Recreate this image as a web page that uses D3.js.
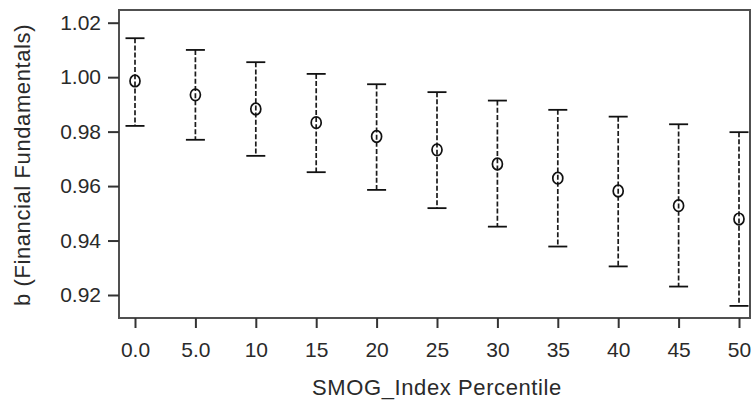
<!DOCTYPE html>
<html>
<head>
<meta charset="utf-8">
<script src="https://cdn.jsdelivr.net/npm/d3@7"></script>
<style>
  html, body { margin: 0; padding: 0; background: #fff; }
  svg { display: block; }
  text { font-family: "Liberation Sans", Arial, Helvetica, sans-serif; fill: #2a2a2a; }
</style>
</head>
<body>
<svg id="chart" width="753" height="402"></svg>
<script>
// ---- data ----
const categories = ["0.0", "5.0", "10", "15", "20", "25", "30", "35", "40", "45", "50"];
const estimates  = [0.9986, 0.9935, 0.9883, 0.9833, 0.9782, 0.9733, 0.9681, 0.9629, 0.9582, 0.9528, 0.9479];
const upper      = [1.0143, 1.0100, 1.0055, 1.0012, 0.9974, 0.9945, 0.9914, 0.9880, 0.9855, 0.9827, 0.9798];
const lower      = [0.9821, 0.9770, 0.9711, 0.9651, 0.9586, 0.9519, 0.9451, 0.9378, 0.9305, 0.9231, 0.9160];
const yTicks     = [0.92, 0.94, 0.96, 0.98, 1.00, 1.02];
const xTitle = "SMOG_Index Percentile";
const yTitle = "b (Financial Fundamentals)";

// ---- layout ----
const svg = d3.select("#chart");
const frame = { left: 119, top: 10, right: 750, bottom: 318 };

const x = d3.scalePoint().domain(categories).range([135, 739]);
const y = d3.scaleLinear().domain([0.92, 1.02]).range([295, 22.7]);

const rows = categories.map((c, i) => ({ c, est: estimates[i], hi: upper[i], lo: lower[i] }));

// frame
svg.append("rect")
  .attr("x", frame.left).attr("y", frame.top)
  .attr("width", frame.right - frame.left).attr("height", frame.bottom - frame.top)
  .attr("fill", "none").attr("stroke", "#505050").attr("stroke-width", 2);

// y axis
const yAxis = d3.axisLeft(y).tickValues(yTicks).tickFormat(d3.format(".2f")).tickSize(11).tickPadding(7);
const gy = svg.append("g").attr("transform", `translate(${frame.left},0)`).call(yAxis);
gy.select(".domain").remove();
gy.selectAll(".tick line").attr("stroke", "#333").attr("stroke-width", 2);
gy.selectAll(".tick text").attr("font-size", 21).attr("fill", "#2a2a2a")
  .style("font-family", "'Liberation Sans', Arial, sans-serif");

// x axis
const xAxis = d3.axisBottom(x).tickSize(10).tickPadding(14);
const gx = svg.append("g").attr("transform", `translate(0,${frame.bottom})`).call(xAxis);
gx.select(".domain").remove();
gx.selectAll(".tick line").attr("stroke", "#333").attr("stroke-width", 2);
gx.selectAll(".tick text").attr("font-size", 21).attr("fill", "#2a2a2a")
  .style("font-family", "'Liberation Sans', Arial, sans-serif");

// error bars
const g = svg.append("g");
g.selectAll("line.whisker").data(rows).join("line")
  .attr("class", "whisker")
  .attr("x1", d => x(d.c)).attr("x2", d => x(d.c))
  .attr("y1", d => y(d.hi)).attr("y2", d => y(d.lo))
  .attr("stroke", "#1a1a1a").attr("stroke-width", 1.7)
  .attr("stroke-dasharray", "5,2.2");

const capHalf = 9.5;
["hi", "lo"].forEach(k => {
  g.selectAll("line.cap-" + k).data(rows).join("line")
    .attr("class", "cap-" + k)
    .attr("x1", d => x(d.c) - capHalf).attr("x2", d => x(d.c) + capHalf)
    .attr("y1", d => y(d[k])).attr("y2", d => y(d[k]))
    .attr("stroke", "#111").attr("stroke-width", 1.8);
});

g.selectAll("ellipse.pt").data(rows).join("ellipse")
  .attr("class", "pt")
  .attr("cx", d => x(d.c)).attr("cy", d => y(d.est))
  .attr("rx", 5).attr("ry", 5.8)
  .attr("fill", "none").attr("stroke", "#111").attr("stroke-width", 1.7);

// axis titles
svg.append("text")
  .attr("x", 437).attr("y", 395)
  .attr("text-anchor", "middle").attr("font-size", 22)
  .style("letter-spacing", "0.6px")
  .text(xTitle);

svg.append("text")
  .attr("transform", "translate(30,165) rotate(-90)")
  .attr("text-anchor", "middle").attr("font-size", 22)
  .style("letter-spacing", "0.6px")
  .text(yTitle);
</script>
</body>
</html>
